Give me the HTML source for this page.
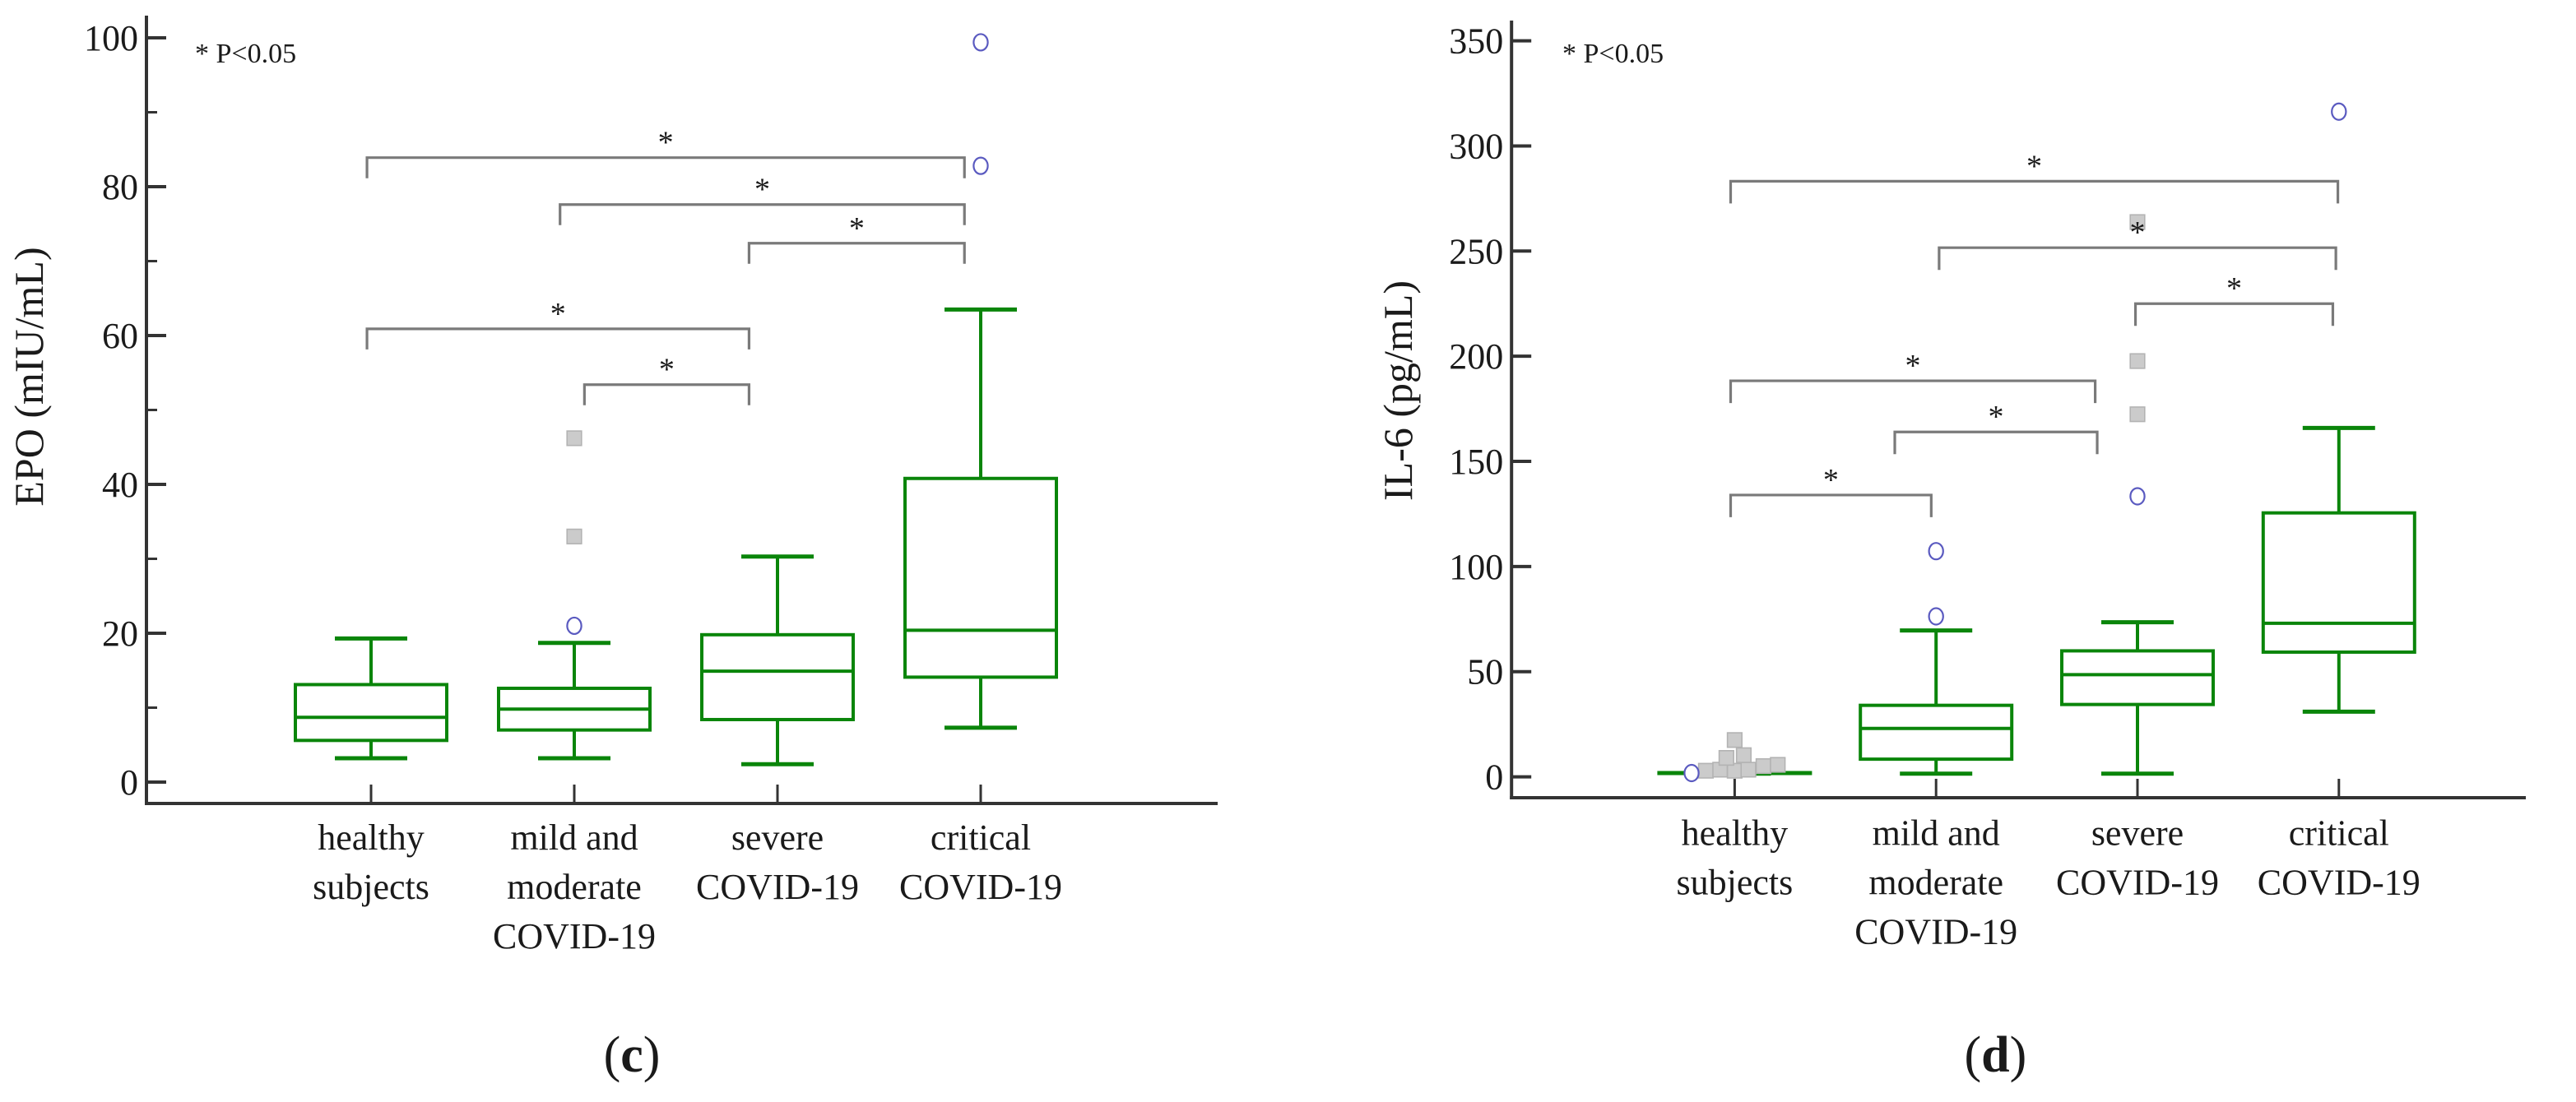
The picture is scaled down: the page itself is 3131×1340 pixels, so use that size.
<!DOCTYPE html>
<html><head><meta charset="utf-8"><style>
html,body{margin:0;padding:0;background:#fff;}
svg{display:block;}
text{font-family:"Liberation Serif",serif;fill:#1a1a1a;}
</style></head><body>
<svg id="fig" width="3131" height="1340" viewBox="0 0 1565.5 670" xmlns="http://www.w3.org/2000/svg"></svg>
<script>
// ===== Chart (c) EPO data =====
const categories = [["healthy","subjects"],["mild and","moderate","COVID-19"],["severe","COVID-19"],["critical","COVID-19"]];
const epoMin = [3.2, 3.2, 2.4, 7.3];
const epoQ1 = [5.6, 7.0, 8.4, 14.1];
const epoMed = [8.7, 9.8, 14.9, 20.4];
const epoQ3 = [13.1, 12.6, 19.8, 40.8];
const epoMax = [19.3, 18.7, 30.3, 63.5];
const epoCircles = [[1, 21.0, 0], [3, 99.4, 0], [3, 82.8, 0]];
const epoSquares = [[1, 46.2, 0], [1, 33.0, 0]];
const epoTicks = [0, 20, 40, 60, 80, 100];
const epoMinorTicks = [10, 30, 50, 70, 90];
const epoBrackets = [[-0.02, 2.92, 83.9], [0.93, 2.92, 77.6], [1.86, 2.92, 72.4], [-0.02, 1.86, 60.9], [1.05, 1.86, 53.4]];
// ===== Chart (d) IL-6 data =====
const ilMin = [1.5, 1.5, 1.5, 31.0];
const ilQ1 = [1.6, 8.4, 34.4, 59.3];
const ilMed = [1.8, 23.0, 48.6, 73.0];
const ilQ3 = [2.0, 34.0, 59.9, 125.5];
const ilMax = [2.2, 69.6, 73.5, 165.9];
const ilCircles = [[0, 1.8, -0.214], [1, 107.3, 0], [1, 76.3, 0], [2, 133.4, 0], [3, 316.3, 0]];
const ilSquares = [[0, 2.9, -0.143], [0, 3.4, -0.072], [0, 2.9, 0], [0, 3.4, 0.068], [0, 5.1, 0.143], [0, 5.7, 0.214], [0, 9.0, -0.041], [0, 10.3, 0.045], [0, 17.5, 0], [2, 172.4, 0], [2, 197.7, 0], [2, 263.8, 0]];
const ilTicks = [0, 50, 100, 150, 200, 250, 300, 350];
const ilMinorTicks = [];
const ilBrackets = [[-0.02, 2.995, 283.2], [1.015, 2.985, 251.6], [1.99, 2.97, 225], [-0.02, 1.79, 188.3], [0.795, 1.80, 164], [-0.02, 0.976, 134]];

const NS = "http://www.w3.org/2000/svg";
const svg = document.getElementById('fig');
function mk(tag, attrs, parent){
  const e = document.createElementNS(NS, tag);
  for (const k in attrs) e.setAttribute(k, attrs[k]);
  (parent||svg).appendChild(e);
  return e;
}
const GREEN = "#0a850a";

function drawChart(cfg){
  const g = mk('g', {});
  
  
  const y = v => cfg.y0 - v * cfg.ppu;
  const x = i => cfg.x0 + i * cfg.dx;
  const ya = mk('line', {x1:cfg.axX, y1:cfg.axTop, x2:cfg.axX, y2:cfg.axY+1, stroke:'#333', 'stroke-width':2}, g);
  
  
  const xa = mk('line', {x1:cfg.axX-1, y1:cfg.axY, x2:cfg.axRight, y2:cfg.axY, stroke:'#333', 'stroke-width':2}, g);
  
  
  cfg.ticks.forEach(t => {
    const tl = mk('line', {x1:cfg.axX, y1:y(t), x2:cfg.axX+12, y2:y(t), stroke:'#333', 'stroke-width':2}, g);
    
    
    const tx = mk('text', {x:cfg.axX-5, y:y(t)+7.5, 'text-anchor':'end', 'font-size':22}, g);
    
    
    tx.textContent = t;
  });
  cfg.minor.forEach(t => {
    const tl = mk('line', {x1:cfg.axX, y1:y(t), x2:cfg.axX+6.5, y2:y(t), stroke:'#333', 'stroke-width':1.5}, g);
    
    
  });
  const yt = mk('text', {x:0, y:0, 'text-anchor':'middle', 'font-size':25, transform:`translate(${cfg.titleX},${cfg.titleY}) rotate(-90)`}, g);
  
  
  yt.textContent = cfg.title;
  categories.forEach((lines, i) => {
    const tk = mk('line', {x1:x(i), y1:cfg.axY, x2:x(i), y2:cfg.axY-11.5, stroke:'#333', 'stroke-width':1.5}, g);
    
    
    const tx = mk('text', {x:x(i), y:cfg.labY, 'text-anchor':'middle', 'font-size':22}, g);
    
    
    lines.forEach((l, j) => {
      const ts = mk('tspan', {x:x(i), dy: j===0 ? 0 : 30}, tx);
      ts.textContent = l;
    });
  });
  const hw = 46, cw = 22;
  for (let i = 0; i < categories.length; i++){
    const bg = mk('g', {stroke:GREEN, 'stroke-width':2, fill:'none'}, g);
    
    
    mk('line', {x1:x(i), y1:y(cfg.max[i]), x2:x(i), y2:y(cfg.q3[i])}, bg);
    mk('line', {x1:x(i), y1:y(cfg.q1[i]), x2:x(i), y2:y(cfg.min[i])}, bg);
    mk('line', {x1:x(i)-cw, y1:y(cfg.max[i]), x2:x(i)+cw, y2:y(cfg.max[i]), 'stroke-width':2.5}, bg);
    mk('line', {x1:x(i)-cw, y1:y(cfg.min[i]), x2:x(i)+cw, y2:y(cfg.min[i]), 'stroke-width':2.5}, bg);
    mk('rect', {x:x(i)-hw, y:y(cfg.q3[i]), width:2*hw, height:Math.max(0.1, y(cfg.q1[i])-y(cfg.q3[i]))}, bg);
    mk('line', {x1:x(i)-hw, y1:y(cfg.med[i]), x2:x(i)+hw, y2:y(cfg.med[i])}, bg);
  }
  cfg.squares.forEach(s => {
    const r = mk('rect', {x:x(s[0]+s[2])-4.4, y:y(s[1])-4.4, width:8.8, height:8.8, fill:'#cbcbcb', stroke:'#b3b3b3', 'stroke-width':0.8}, g);
    
    
  });
  cfg.circles.forEach(c => {
    const e = mk('ellipse', {cx:x(c[0]+c[2]), cy:y(c[1]), rx:4.3, ry:5, fill:'#fff', stroke:'#5a5ac0', 'stroke-width':1.1}, g);
    
    
  });
  cfg.brackets.forEach(b => {
    const x1 = x(b[0]), x2 = x(b[1]), yy = y(b[2]);
    const p = mk('path', {d:`M${x1},${yy+cfg.leg} V${yy} H${x2} V${yy+cfg.leg}`, fill:'none', stroke:'#7a7a7a', 'stroke-width':1.6}, g);
    
    
    const st = mk('text', {x:(x1+x2)/2, y:yy-3, 'text-anchor':'middle', 'font-size':19}, g);
    
    
    st.textContent = '*';
  });
  const pt = mk('text', {x:cfg.pX, y:38, 'font-size':17}, g);
  
  
  pt.textContent = '* P<0.05';
  const lb = mk('text', {x:cfg.panelX, y:651.5, 'text-anchor':'middle', 'font-size':31}, g);
  
  
  const t1 = mk('tspan', {}, lb); t1.textContent = '(';
  const t2 = mk('tspan', {'font-weight':'bold'}, lb); t2.textContent = cfg.panel;
  const t3 = mk('tspan', {}, lb); t3.textContent = ')';
}

drawChart({name:'epo-chart', y0:475.5, ppu:4.525, x0:225.5, dx:123.5, axX:89, axTop:9.5, axY:488.5, axRight:740,
  ticks:epoTicks, minor:epoMinorTicks, title:'EPO (mIU/mL)', titleX:26, titleY:229, labY:516.5,
  min:epoMin, q1:epoQ1, med:epoMed, q3:epoQ3, max:epoMax, circles:epoCircles, squares:epoSquares,
  brackets:epoBrackets, leg:12.5, pX:118.5, panelX:384, panel:'c'});
drawChart({name:'il6-chart', y0:472.3, ppu:1.2786, x0:1054.2, dx:122.4, axX:918.6, axTop:12.5, axY:485, axRight:1535,
  ticks:ilTicks, minor:ilMinorTicks, title:'IL-6 (pg/mL)', titleX:858, titleY:237.5, labY:513.8,
  min:ilMin, q1:ilQ1, med:ilMed, q3:ilQ3, max:ilMax, circles:ilCircles, squares:ilSquares,
  brackets:ilBrackets, leg:13.5, pX:949.5, panelX:1212.7, panel:'d'});
</script>
</body></html>
